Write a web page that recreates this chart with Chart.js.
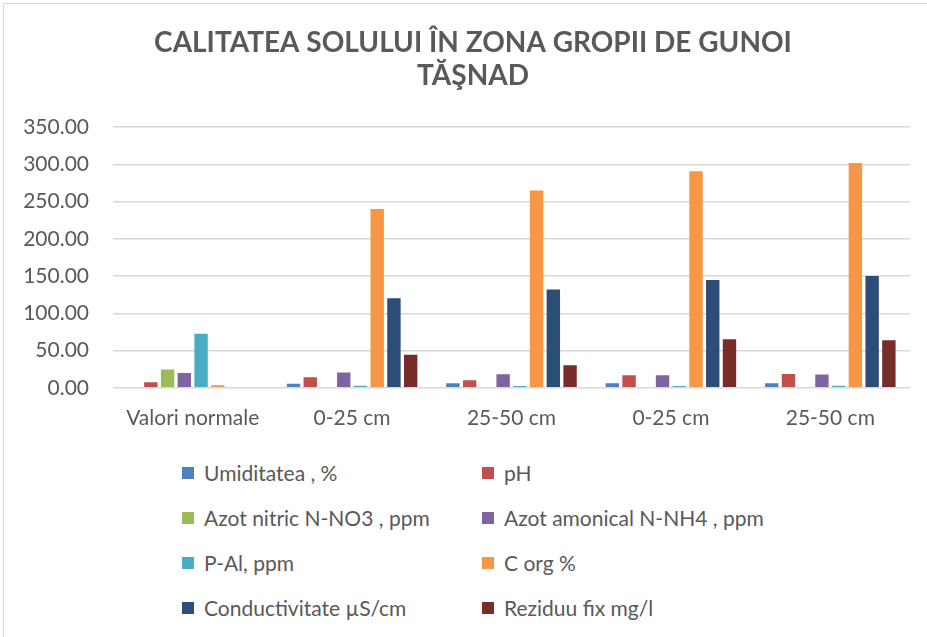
<!DOCTYPE html>
<html>
<head>
<meta charset="utf-8">
<script src="https://cdn.jsdelivr.net/npm/chart.js@4.4.1/dist/chart.umd.min.js"></script>
<style>
  body { margin: 0; background: #fff; }
  #wrap { position: relative; width: 927px; height: 637px; overflow: hidden; }
  #frame { position: absolute; left: 3px; top: 3px; width: 1000px; height: 1000px; border: 1px solid #D9D9D9; }
  #myChart { position: absolute; left: 0; top: 0; }
  #legend { position: absolute; left: 182px; top: 450px; width: 700px;
    display: grid; grid-template-columns: 300px 400px; row-gap: 0;
    font-family: Lato, "Open Sans", sans-serif; font-size: 21px; color: #595959; }
  .item { height: 45px; display: flex; align-items: center; }
  .sw { width: 12px; height: 12px; margin-right: 10px; }
</style>
</head>
<body>
<div id="wrap">
  <div id="frame"></div>
  <canvas id="myChart" width="927" height="449"></canvas>
  <div id="legend"></div>
</div>
<script>
const categories = ['Valori normale', '0-25 cm', '25-50 cm', '0-25 cm', '25-50 cm'];
const seriesNames = ['Umiditatea , %', 'pH', 'Azot nitric N-NO3 , ppm', 'Azot amonical N-NH4 , ppm',
  'P-Al, ppm', 'C org %', 'Conductivitate µS/cm', 'Reziduu fix mg/l'];
const colors = ['#4F81BD', '#C0504D', '#9BBB59', '#8064A2', '#4BACC6', '#F79646', '#2C4D75', '#772C2A'];

const umiditatea = [0, 5.5, 6, 6, 6];
const ph = [7.5, 14.3, 10.3, 17, 18.4];
const azotNitric = [24.6, 0, 0, 0, 0];
const azotAmonical = [20, 20.6, 18.3, 16.8, 17.9];
const pAl = [72.4, 2.7, 2.3, 2.3, 2.7];
const cOrg = [3.5, 240, 264.7, 290.6, 301.7];
const conductivitate = [0, 120.3, 132, 144.8, 150.2];
const reziduu = [0, 44.3, 30.4, 65.3, 64];

const yTicks = [0, 50, 100, 150, 200, 250, 300, 350];

const allSeries = [umiditatea, ph, azotNitric, azotAmonical, pAl, cOrg, conductivitate, reziduu];

const ctx = document.getElementById('myChart');
const font = 'Lato, "Open Sans", sans-serif';

// title in the original sits a little right of the canvas centre
const shiftTitle = {
  id: 'shiftTitle',
  afterLayout(chart) { chart.titleBlock.left += 22; }
};

let myChart = new Chart(ctx, {
  type: 'bar',
  data: {
    labels: categories,
    datasets: allSeries.map((d, i) => ({
      label: seriesNames[i],
      data: d,
      backgroundColor: colors[i],
      borderWidth: 0,
      categoryPercentage: 0.84,
      barPercentage: 0.8
    }))
  },
  options: {
    responsive: false,
    animation: false,
    devicePixelRatio: 1,
    layout: { padding: { left: 14, right: 17, top: 26, bottom: 0 } },
    plugins: {
      legend: { display: false },
      tooltip: { enabled: false },
      title: {
        display: true,
        text: ['CALITATEA SOLULUI ÎN ZONA GROPII DE GUNOI', 'TĂŞNAD'],
        color: '#595959',
        font: { family: font, size: 28, weight: 'bold', lineHeight: 1.18 },
        padding: { top: 0, bottom: 35 }
      }
    },
    scales: {
      x: {
        grid: { display: false, drawTicks: false },
        border: { display: false },
        ticks: { color: '#595959', font: { family: font, size: 21 }, padding: 18 }
      },
      y: {
        min: 0,
        max: 350,
        afterBuildTicks: axis => { axis.ticks = yTicks.map(v => ({ value: v })); },
        afterFit: axis => { axis.width = 99; },
        grid: { color: '#D9D9D9', lineWidth: 1.5, drawTicks: false },
        border: { display: false },
        ticks: {
          color: '#595959',
          font: { family: font, size: 21 },
          padding: 24,
          callback: v => v.toFixed(2)
        }
      }
    }
  },
  plugins: [shiftTitle]
});

const legend = document.getElementById('legend');
seriesNames.forEach((name, i) => {
  const el = document.createElement('div');
  el.className = 'item';
  el.innerHTML = '<span class="sw" style="background:' + colors[i] + '"></span>' + name;
  legend.appendChild(el);
});
</script>
</body>
</html>
